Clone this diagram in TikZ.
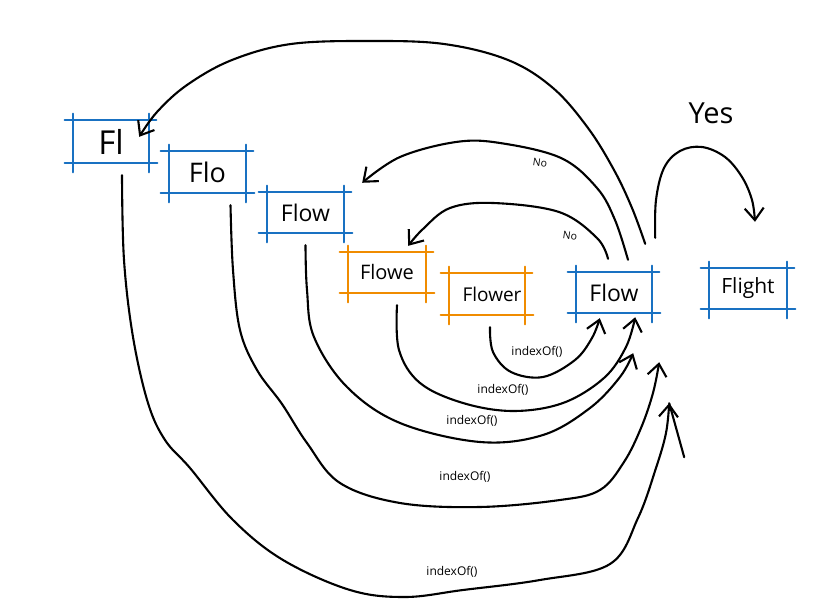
\documentclass[tikz,border=0pt]{standalone}
\usepackage{fontspec}
\setmainfont{Open Sans}
\usetikzlibrary{arrows.meta,calc}
\definecolor{skblue}{HTML}{1971C2}
\definecolor{skorange}{HTML}{F08C00}
\newcommand\skframe[2]{%
  \draw[frame,draw=#2] ($(#1.north west)+(-8,0)$) -- ($(#1.north east)+(7,0)$);
  \draw[frame,draw=#2] ($(#1.south west)+(-8,0)$) -- ($(#1.south east)+(8,0)$);
  \draw[frame,draw=#2] ($(#1.north west)+(0,-6)$) -- ($(#1.south west)+(0,9)$);
  \draw[frame,draw=#2] ($(#1.north east)+(0,-6)$) -- ($(#1.south east)+(0,9)$);
}
\begin{document}
\begin{tikzpicture}[x=1pt,y=-1pt,
  bx/.style={inner sep=0pt,minimum height=42pt},
  frame/.style={line width=2.5pt,line cap=round},
  conn/.style={line width=2.1pt,line cap=round,line join=round},
  harrow/.style={-{Straight Barb[length=12pt,width=19pt]}},
  lbl/.style={font=\fontsize{12}{14}\selectfont},
  nolbl/.style={font=\fontsize{10.5}{12}\selectfont}]
\fill[white] (0,0) rectangle (828,612);
\useasboundingbox (0,0) rectangle (828,612);

% boxes
\node[bx,minimum width=76pt,minimum height=43pt,font=\fontsize{33}{36}\selectfont] (fl) at (111,141.5) {Fl};
\node[bx,minimum width=77pt,font=\fontsize{27}{30}\selectfont] (flo) at (207.5,172) {Flo};
\node[bx,minimum width=77pt,minimum height=41pt,font=\fontsize{23}{26}\selectfont] (flowa) at (305.5,212.5) {Flow};
\node[bx,minimum width=78pt,minimum height=41pt,font=\fontsize{20}{23}\selectfont] (flowe) at (387,272.5) {Flowe};
\node[bx,minimum width=76pt,font=\fontsize{19}{22}\selectfont] (flower) at (487,294) {\hspace*{10pt}Flower};
\node[bx,minimum width=76pt,minimum height=41pt,font=\fontsize{23}{26}\selectfont] (flowb) at (614,292.5) {Flow};
\node[bx,minimum width=78pt,minimum height=41pt,font=\fontsize{21}{24}\selectfont] (flight) at (748,288.5) {Flight};

\skframe{fl}{skblue}
\skframe{flo}{skblue}
\skframe{flowa}{skblue}
\skframe{flowe}{skorange}
\skframe{flower}{skorange}
\skframe{flowb}{skblue}
\skframe{flight}{skblue}

\node[font=\fontsize{29}{32}\selectfont] (yes) at (711,113) {Yes};

% connector end points
\coordinate (n1s) at ($(flowb.north)+(-6,-13)$);
\coordinate (n1e) at ($(flowe.north east)+(-18,-6)$);
\coordinate (n2s) at ($(flowb.north)+(14,-12)$);
\coordinate (n2e) at ($(flowa.north east)+(18,-9)$);
\coordinate (bgs) at ($(flowb.north east)+(-7,-28)$);
\coordinate (bge) at ($(fl.north east)+(-10,17)$);
\coordinate (ys) at ($(flowb.north east)+(3,-34)$);
\coordinate (ye) at ($(flight.north)+(7,-46)$);
\coordinate (as) at ($(flower.south)+(3,12)$);
\coordinate (ae) at ($(flowb.south west)+(24,5)$);
\coordinate (bs) at ($(flowe.south)+(10,12)$);
\coordinate (be) at ($(flowb.south east)+(-17,4)$);
\coordinate (cs) at ($(flowa.south)+(0,12)$);
\coordinate (ce) at ($(flowb.south east)+(-19,40)$);
\coordinate (ds) at ($(flo.south)+(23,12)$);
\coordinate (de) at ($(flowb.south east)+(7,49)$);
\coordinate (es) at ($(fl.south)+(11,12)$);
\coordinate (ee) at ($(flowb.south east)+(17,90)$);

% No curves
\draw[conn,harrow] plot[smooth,tension=0.6] coordinates {(n1s) (597,238) (559,212) (493,203) (450,208) (423,229) (n1e)};
\draw[conn,harrow] plot[smooth,tension=0.6] coordinates {(n2s) (615,220) (597,188) (561,158) (500,143) (456,142) (400,157) (n2e)};
\draw[conn,harrow] plot[smooth,tension=0.6] coordinates {(bgs) (632,208) (614,170) (588,128) (553,88) (508,60) (444,44) (370,41) (291,44) (232,60) (187,85) (157,112) (bge)};
% Yes curve
\draw[conn,harrow] plot[smooth,tension=0.6] coordinates {(ys) (656,200) (664,168) (680,151) (702,147) (725,157) (742,177) (752,200) (ye)};

% indexOf curves
\draw[conn,harrow] plot[smooth,tension=0.6] coordinates {(as) (493,352) (511,372) (543,377) (575,360) (592,338) (ae)};
\draw[conn,harrow] plot[smooth,tension=0.6] coordinates {(bs) (399,350) (420,383) (463,403) (513,411) (563,403) (604,378) (626,347) (be)};
\draw[conn,harrow] plot[smooth,tension=0.6] coordinates {(cs) (307,290) (314,337) (347,387) (400,423) (480,442) (543,435) (590,408) (620,377) (ce)};
\draw[conn,harrow] plot[smooth,tension=0.6] coordinates {(ds) (233,270) (240,330) (257,370) (282,404) (307,443) (340,483) (400,503) (480,507) (560,500) (600,490) (624,462) (641,428) (653,393) (de)};
\draw[conn,harrow] plot[smooth,tension=0.6] coordinates {(es) (124,260) (133,337) (148,403) (165,440) (190,468) (233,520) (283,560) (350,590) (405,597) (463,590) (540,580) (610,564) (638,518) (656,468) (666,433) (ee)};
\draw[conn] (ee) -- ($(ee)+(15,54)$);

% labels
\node[nolbl,rotate=-8] (no1) at (570,236) {No};
\node[nolbl,rotate=-8] (no2) at (540,163) {No};
\node[lbl] (ia) at (537,352) {indexOf()};
\node[lbl] (ib) at (503,390) {indexOf()};
\node[lbl] (ic) at (472,421) {indexOf()};
\node[lbl] (id) at (465,477) {indexOf()};
\node[lbl] (ie) at (452,572) {indexOf()};
\end{tikzpicture}
\end{document}
